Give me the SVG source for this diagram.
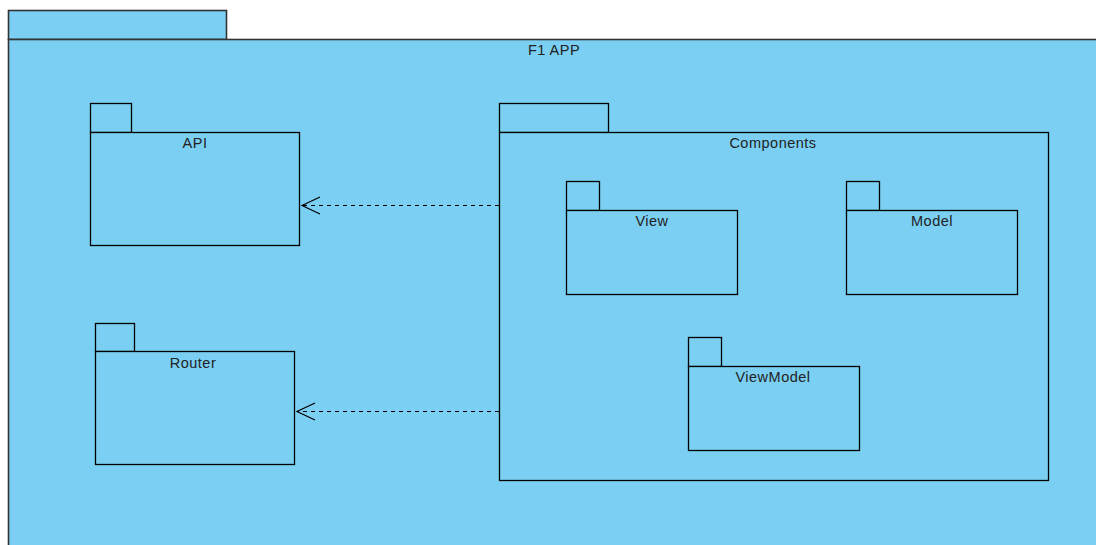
<svg xmlns="http://www.w3.org/2000/svg" width="1096" height="545" viewBox="0 0 1096 545">
<style>
.pk{fill:#7ACFF3;stroke:#000;stroke-width:1.3}
.outer{fill:#7ACFF3;stroke:#333;stroke-width:1.6}
.lb{font-family:"Liberation Sans",Arial,sans-serif;font-size:14.5px;letter-spacing:0.5px;fill:#222;text-anchor:middle}
.dep{fill:none;stroke:#000;stroke-width:1.2;stroke-dasharray:4,4}
.head{fill:none;stroke:#000;stroke-width:1.2}
</style>
<rect width="1096" height="545" fill="#fff"/>
<g id="f1app">
<rect class="outer" x="8.5" y="10.5" width="218" height="29"/>
<rect class="outer" x="8.5" y="39.5" width="1100" height="520"/>
<text class="lb" x="554" y="55">F1 APP</text>
</g>
<g id="api">
<rect class="pk" x="90.5" y="103.5" width="41" height="29"/>
<rect class="pk" x="90.5" y="132.5" width="209" height="113"/>
<text class="lb" x="195" y="148">API</text>
</g>
<g id="router">
<rect class="pk" x="95.5" y="323.5" width="39" height="28"/>
<rect class="pk" x="95.5" y="351.5" width="199" height="113"/>
<text class="lb" x="193" y="368">Router</text>
</g>
<g id="components">
<rect class="pk" x="499.5" y="103.5" width="109" height="29"/>
<rect class="pk" x="499.5" y="132.5" width="549" height="348"/>
<text class="lb" x="773" y="148">Components</text>
</g>
<g id="view">
<rect class="pk" x="566.5" y="181.5" width="33" height="29"/>
<rect class="pk" x="566.5" y="210.5" width="171" height="84"/>
<text class="lb" x="652" y="226">View</text>
</g>
<g id="model">
<rect class="pk" x="846.5" y="181.5" width="33" height="29"/>
<rect class="pk" x="846.5" y="210.5" width="171" height="84"/>
<text class="lb" x="932" y="226">Model</text>
</g>
<g id="viewmodel">
<rect class="pk" x="688.5" y="337.5" width="33" height="29"/>
<rect class="pk" x="688.5" y="366.5" width="171" height="84"/>
<text class="lb" x="773" y="382">ViewModel</text>
</g>
<g id="connectors">
<line class="dep" x1="499" y1="205.5" x2="303" y2="205.5"/>
<polyline class="head" points="320,197 302,205.5 320,214"/>
<line class="dep" x1="499" y1="411.5" x2="298" y2="411.5"/>
<polyline class="head" points="315,403 297,411.5 315,420"/>
</g>
</svg>
